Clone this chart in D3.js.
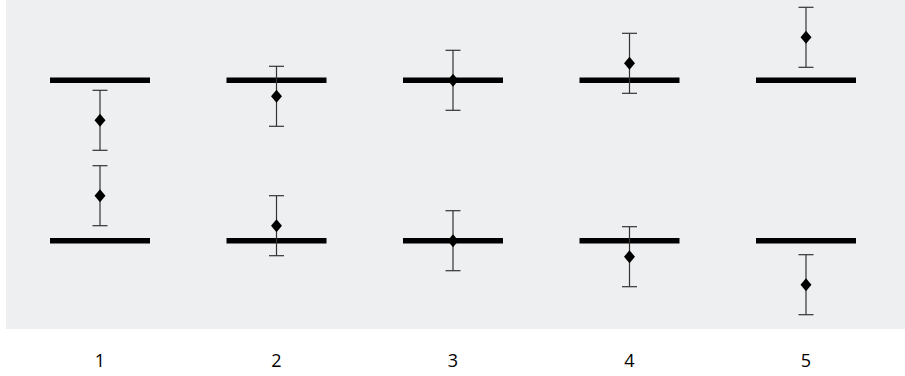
<!DOCTYPE html>
<html>
<head>
<meta charset="utf-8">
<script src="https://cdn.jsdelivr.net/npm/d3@7"></script>
<style>
html,body{margin:0;padding:0;background:#fff;}
svg{display:block;}
</style>
</head>
<body>
<div id="chart"></div>
<script>
// data
const categories = [1, 2, 3, 4, 5];
const topMeans = [-4.0, -1.6, 0, 1.7, 4.3];
const topErrors = [3.0, 3.0, 3.0, 3.0, 3.0];
const bottomMeans = [4.5, 1.5, 0, -1.6, -4.4];
const bottomErrors = [3.0, 3.0, 3.0, 3.0, 3.0];
const referenceValue = 0;

(function(){
const width = 905, height = 376;
const svg = d3.select('#chart').append('svg').attr('width', width).attr('height', height);

svg.append('rect').attr('x', 6).attr('y', 0).attr('width', width - 6).attr('height', 329).attr('fill', '#eeeff1');

const x = d3.scaleLinear().domain([1, 5]).range([100, 806]);
const yTop = d3.scaleLinear().domain([-8, 8]).range([160.3, 0.3]);
const yBottom = d3.scaleLinear().domain([-8, 8]).range([320.7, 160.7]);

const panels = [
  {y: yTop, means: topMeans, errors: topErrors},
  {y: yBottom, means: bottomMeans, errors: bottomErrors}
];

const halfLine = 50, cap = 7.5;
const diamond = d3.symbol().type(d3.symbolDiamond).size(70);

panels.forEach(p => {
  const g = svg.append('g');
  const rows = categories.map((c, i) => ({c, m: p.means[i], e: p.errors[i]}));

  g.selectAll('line.ref').data(rows).enter().append('line')
    .attr('x1', d => x(d.c) - halfLine).attr('x2', d => x(d.c) + halfLine)
    .attr('y1', p.y(referenceValue)).attr('y2', p.y(referenceValue))
    .attr('stroke', '#000').attr('stroke-width', 5.5);

  const eb = g.selectAll('g.eb').data(rows).enter().append('g');
  eb.append('line')
    .attr('x1', d => x(d.c)).attr('x2', d => x(d.c))
    .attr('y1', d => p.y(d.m + d.e)).attr('y2', d => p.y(d.m - d.e))
    .attr('stroke', '#333').attr('stroke-width', 1.2);
  [1, -1].forEach(s => {
    eb.append('line')
      .attr('x1', d => x(d.c) - cap).attr('x2', d => x(d.c) + cap)
      .attr('y1', d => p.y(d.m + s * d.e)).attr('y2', d => p.y(d.m + s * d.e))
      .attr('stroke', '#333').attr('stroke-width', 1.2);
  });
  eb.append('path')
    .attr('d', diamond)
    .attr('transform', d => `translate(${x(d.c)},${p.y(d.m)}) scale(1.22,0.84)`)
    .attr('fill', '#000');
});

svg.selectAll('text.cat').data(categories).enter().append('text')
  .attr('x', d => x(d)).attr('y', 367)
  .attr('text-anchor', 'middle')
  .attr('font-family', 'Open Sans, Liberation Sans, sans-serif')
  .attr('font-size', 18).attr('fill', '#000')
  .text(d => d);
})();
</script>
</body>
</html>
